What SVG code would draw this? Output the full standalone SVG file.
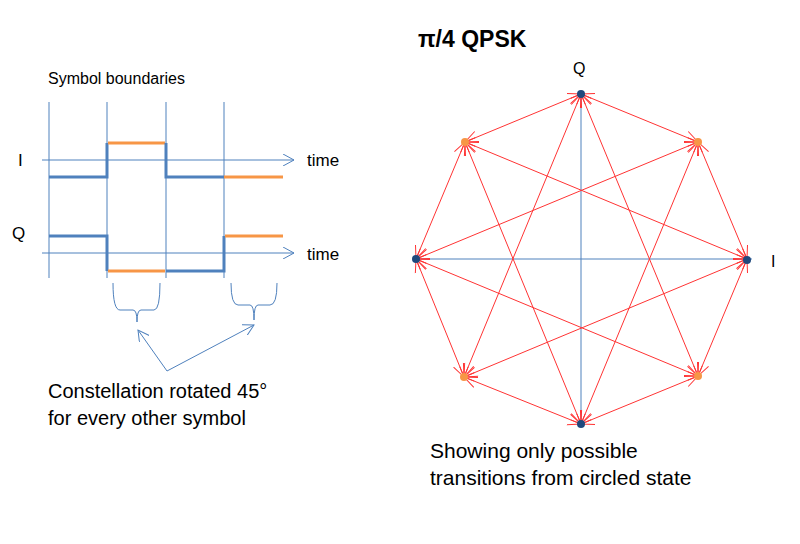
<svg xmlns="http://www.w3.org/2000/svg" width="800" height="544" viewBox="0 0 800 544">
<style>
text{font-family:"Liberation Sans",Arial,sans-serif;fill:#000}
.ax{stroke:#4f81bd;stroke-width:1;fill:none}
.bl{stroke:#4f81bd;stroke-width:3;fill:none}
.or{stroke:#f79646;stroke-width:3;fill:none}
.tr{stroke:#ff3333;stroke-width:1;fill:none;marker-start:url(#ra);marker-end:url(#ra)}
</style>
<defs>
<marker id="ba" viewBox="0 0 12 12" refX="11" refY="6" markerWidth="12" markerHeight="12" markerUnits="userSpaceOnUse" orient="auto-start-reverse"><path d="M0,0 L11,6 L0,12" fill="none" stroke="#4f81bd" stroke-width="1"/></marker>
<marker id="ra" viewBox="0 0 14 14" refX="13" refY="7" markerWidth="14" markerHeight="14" markerUnits="userSpaceOnUse" orient="auto-start-reverse"><path d="M0,1 L13,7 L0,13 M2,7 L13,7" fill="none" stroke="#ff3333" stroke-width="1"/></marker>
</defs>
<rect width="800" height="544" fill="#fff"/>
<g id="waveforms">
<text x="48" y="84" font-size="16">Symbol boundaries</text>
<line class="ax" x1="49" y1="102" x2="49" y2="278"/>
<line class="ax" x1="107" y1="102" x2="107" y2="278"/>
<line class="ax" x1="166" y1="102" x2="166" y2="278"/>
<line class="ax" x1="224" y1="102" x2="224" y2="278"/>
<text x="18" y="166" font-size="17">I</text>
<text x="12" y="239" font-size="17">Q</text>
<line class="ax" x1="42" y1="160" x2="294" y2="160" marker-end="url(#ba)"/>
<line class="ax" x1="42" y1="253" x2="294" y2="253" marker-end="url(#ba)"/>
<text x="307" y="166" font-size="17">time</text>
<text x="307" y="260" font-size="17">time</text>
<path class="bl" d="M49,177 H107 V143"/>
<path class="or" d="M108,143 H165"/>
<path class="bl" d="M166,143 V177 H224"/>
<path class="or" d="M224,177 H283"/>
<path class="bl" d="M49,236 H107 V271"/>
<path class="or" d="M108,271 H165"/>
<path class="bl" d="M166,271 H224 V236"/>
<path class="or" d="M225,236 H283"/>
<path class="ax" d="M113,283 Q113,310 120,310 H133 Q137,310 137,322 Q137,310 141,310 H154 Q160,310 160,283"/>
<path class="ax" d="M231,283 Q231,305 238,305 H250 Q254,305 254,320 Q254,305 258,305 H270 Q277,305 277,283"/>
<line class="ax" x1="167" y1="371" x2="138" y2="330" marker-end="url(#ba)"/>
<line class="ax" x1="167" y1="371" x2="254" y2="325" marker-end="url(#ba)"/>
<text x="48" y="398" font-size="20">Constellation rotated 45°</text>
<text x="48" y="425" font-size="20">for every other symbol</text>
</g>
<g id="constellation">
<text x="418" y="47" font-size="23" font-weight="bold">π/4 QPSK</text>
<text x="573" y="74" font-size="16">Q</text>
<text x="771" y="267" font-size="16">I</text>
<line class="ax" x1="581" y1="94" x2="581" y2="424"/>
<line class="ax" x1="416" y1="259" x2="752" y2="259"/>
</g>
<g id="connectors">
<line class="tr" x1="581" y1="94" x2="465" y2="142"/>
<line class="tr" x1="581" y1="94" x2="698" y2="142"/>
<line class="tr" x1="747" y1="259" x2="698" y2="142"/>
<line class="tr" x1="747" y1="259" x2="698" y2="376"/>
<line class="tr" x1="581" y1="424" x2="698" y2="376"/>
<line class="tr" x1="581" y1="424" x2="464" y2="377"/>
<line class="tr" x1="416" y1="259" x2="464" y2="377"/>
<line class="tr" x1="416" y1="259" x2="465" y2="142"/>
<line class="tr" x1="581" y1="94" x2="464" y2="377"/>
<line class="tr" x1="581" y1="94" x2="698" y2="376"/>
<line class="tr" x1="581" y1="424" x2="465" y2="142"/>
<line class="tr" x1="581" y1="424" x2="698" y2="142"/>
<line class="tr" x1="416" y1="259" x2="698" y2="142"/>
<line class="tr" x1="416" y1="259" x2="698" y2="376"/>
<line class="tr" x1="747" y1="259" x2="465" y2="142"/>
<line class="tr" x1="747" y1="259" x2="464" y2="377"/>
</g>
<g id="points">
<circle cx="581" cy="94" r="4" fill="#1f497d"/>
<circle cx="581" cy="424" r="4" fill="#1f497d"/>
<circle cx="416" cy="259" r="4" fill="#1f497d"/>
<circle cx="747" cy="260" r="4" fill="#1f497d"/>
<circle cx="465" cy="142" r="4" fill="#f79646"/>
<circle cx="698" cy="142" r="4" fill="#f79646"/>
<circle cx="464" cy="377" r="4" fill="#f79646"/>
<circle cx="698" cy="376" r="4" fill="#f79646"/>
</g>
<g id="caption">
<text x="430" y="458" font-size="21">Showing only possible</text>
<text x="430" y="485" font-size="21">transitions from circled state</text>
</g>
</svg>
